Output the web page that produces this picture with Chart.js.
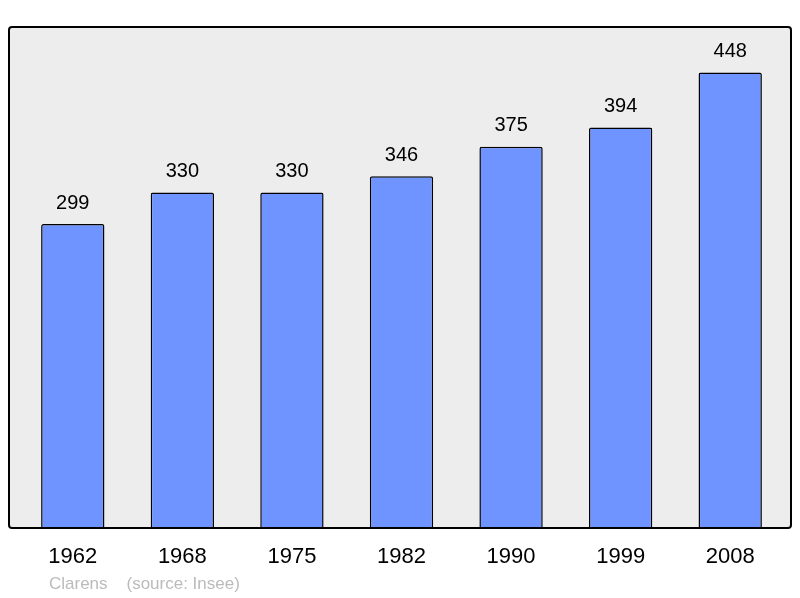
<!DOCTYPE html>
<html><head><meta charset="utf-8">
<script src="https://cdn.jsdelivr.net/npm/chart.js@4"></script>
<style>html,body{margin:0;padding:0;background:#fff}#wrap{width:800px;height:598px}</style>
</head><body><div id="wrap"><canvas id="c" width="800" height="598"></canvas></div>
<script>
const years = ["1962","1968","1975","1982","1990","1999","2008"];
const population = [299,330,330,346,375,394,448];
const footerText = "Clarens    (source: Insee)";

const frame = {
  id:'frame',
  beforeDatasetsDraw(chart){
    const {ctx} = chart;
    const x0 = 9, x1 = 791, y0 = 27, y1 = 528;
    ctx.save();
    ctx.beginPath();
    if (ctx.roundRect) ctx.roundRect(x0, y0, x1-x0, y1-y0, 3); else ctx.rect(x0,y0,x1-x0,y1-y0);
    ctx.fillStyle = '#ededed';
    ctx.fill();
    ctx.restore();
  },
  afterDatasetsDraw(chart){
    const {ctx} = chart;
    const x0 = 9, x1 = 791, y0 = 27, y1 = 528;
    ctx.save();
    ctx.beginPath();
    if (ctx.roundRect) ctx.roundRect(x0, y0, x1-x0, y1-y0, 3); else ctx.rect(x0,y0,x1-x0,y1-y0);
    ctx.lineWidth = 2;
    ctx.strokeStyle = '#000';
    ctx.stroke();
    ctx.fillStyle = '#000';
    ctx.font = '20px "Liberation Sans", Arial, sans-serif';
    ctx.textAlign = 'center';
    ctx.textBaseline = 'middle';
    const meta = chart.getDatasetMeta(0);
    meta.data.forEach((bar,i)=>{
      ctx.fillText(String(population[i]), bar.x, bar.y - 21);
    });
    ctx.fillStyle = '#bbbbbb';
    ctx.font = '17px "Liberation Sans", Arial, sans-serif';
    ctx.textAlign = 'left';
    ctx.fillText(footerText, 49, 584);
    ctx.restore();
  }
};

new Chart(document.getElementById('c'), {
  type:'bar',
  data:{labels:years, datasets:[{data:population, backgroundColor:'#7094ff', borderColor:'#000', borderWidth:1.5, borderSkipped:'bottom', borderRadius:2, barPercentage:0.578, categoryPercentage:1}]},
  options:{
    responsive:false, animation:false, devicePixelRatio:1,
    layout:{padding:{left:18, right:15, top:27, bottom:0}},
    plugins:{legend:{display:false}, tooltip:{enabled:false}},
    scales:{
      x:{grid:{display:false}, border:{display:false},
         afterFit(scale){ scale.height = 70; },
         ticks:{color:'#000', font:{size:22, family:'"Liberation Sans", Arial, sans-serif'}, padding:8}},
      y:{display:false, min:0, max:492.8}
    }
  },
  plugins:[frame]
});
</script></body></html>
